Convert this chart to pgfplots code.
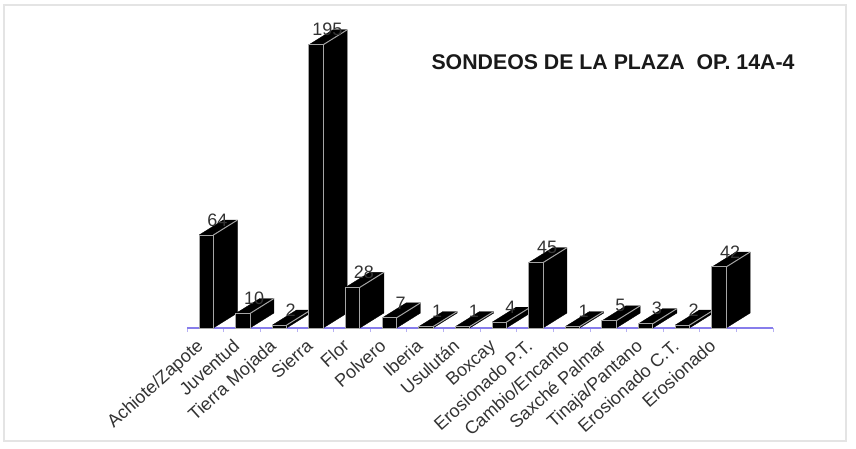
\documentclass[border=0pt]{standalone}
\usepackage{pgfplots}
\pgfplotsset{compat=1.18}
\usepackage{fontspec}
\setmainfont{Liberation Sans}
\definecolor{axisblue}{RGB}{135,125,235}
\definecolor{edge}{RGB}{165,165,165}
\definecolor{frameg}{RGB}{228,228,228}
\newcommand\threedbar[2]{%
  \pgfmathsetmacro\xa{#1+0.33}\pgfmathsetmacro\xb{#1+0.72}%
  \pgfmathsetmacro\xc{\xa+0.655}\pgfmathsetmacro\xd{\xb+0.655}%
  \pgfmathsetmacro\yt{#2+10.3}%
  \addplot[fill=black,draw=black,line width=0.3pt] coordinates {(\xa,#2) (\xc,\yt) (\xd,\yt) (\xd,10.3) (\xb,0) (\xb,#2) (\xa,#2)};
  \addplot[ybar,bar width=14.3pt,bar shift=0pt,fill=black,draw=edge,line width=1pt] coordinates {(#1+0.525,#2)};
  \addplot[edge,line width=1pt] coordinates {(\xb,#2) (\xd,\yt)};
}
\begin{document}
\begin{tikzpicture}[x=1pt,y=1pt]
\path[use as bounding box] (0,0) rectangle (856,448);
\draw[frameg,line width=1.5pt] (4,7) rectangle (846,443);
\begin{axis}[
  at={(187pt,120pt)},anchor=south west,
  scale only axis,width=586pt,height=300pt,
  xmin=0,xmax=16,ymin=0,ymax=206.5,
  clip=false,
  axis x line=bottom,axis y line=none,
  x axis line style={axisblue,line width=1.3pt,-},
  xtick={0,1,...,16},
  x tick label as interval,
  x tick style={axisblue!60,line width=0.7pt},
  tick align=outside,
  major tick length=4pt,
  xticklabels={Achiote/Zapote,Juventud,Tierra Mojada,Sierra,Flor,Polvero,Iberia,Usulután,Boxcay,Erosionado P.T.,Cambio/Encanto,Saxché Palmar,Tinaja/Pantano,Erosionado C.T.,Erosionado,{}},
  xticklabel style={rotate=42,anchor=north east,font=\fontsize{18}{19}\selectfont,text=black!80,xshift=-10.4pt,yshift=3.4pt,inner sep=1pt},
]
\threedbar{0}{64}
\threedbar{1}{10}
\threedbar{2}{2}
\threedbar{3}{195}
\threedbar{4}{28}
\threedbar{5}{7}
\threedbar{6}{1}
\threedbar{7}{1}
\threedbar{8}{4}
\threedbar{9}{45}
\threedbar{10}{1}
\threedbar{11}{5}
\threedbar{12}{3}
\threedbar{13}{2}
\threedbar{14}{42}
% value labels
\addplot[draw=none,mark=none,point meta=explicit symbolic,
  nodes near coords,
  every node near coord/.style={anchor=center,yshift=15pt,xshift=0pt,font=\fontsize{18}{18}\selectfont,text=black!80,inner sep=0pt}]
 table[meta=v] {
 x y v
 0.83 64 64
 1.83 10 10
 2.83 2 2
 3.83 195 195
 4.83 28 28
 5.83 7 7
 6.83 1 1
 7.83 1 1
 8.83 4 4
 9.83 45 45
 10.83 1 1
 11.83 5 5
 12.83 3 3
 13.83 2 2
 14.83 42 42
 };
\end{axis}
\node[font=\bfseries\fontsize{21.3}{22}\selectfont,text=black!90,anchor=center] at (613,386) {SONDEOS DE LA PLAZA\ \ OP. 14A-4};
\end{tikzpicture}
\end{document}
